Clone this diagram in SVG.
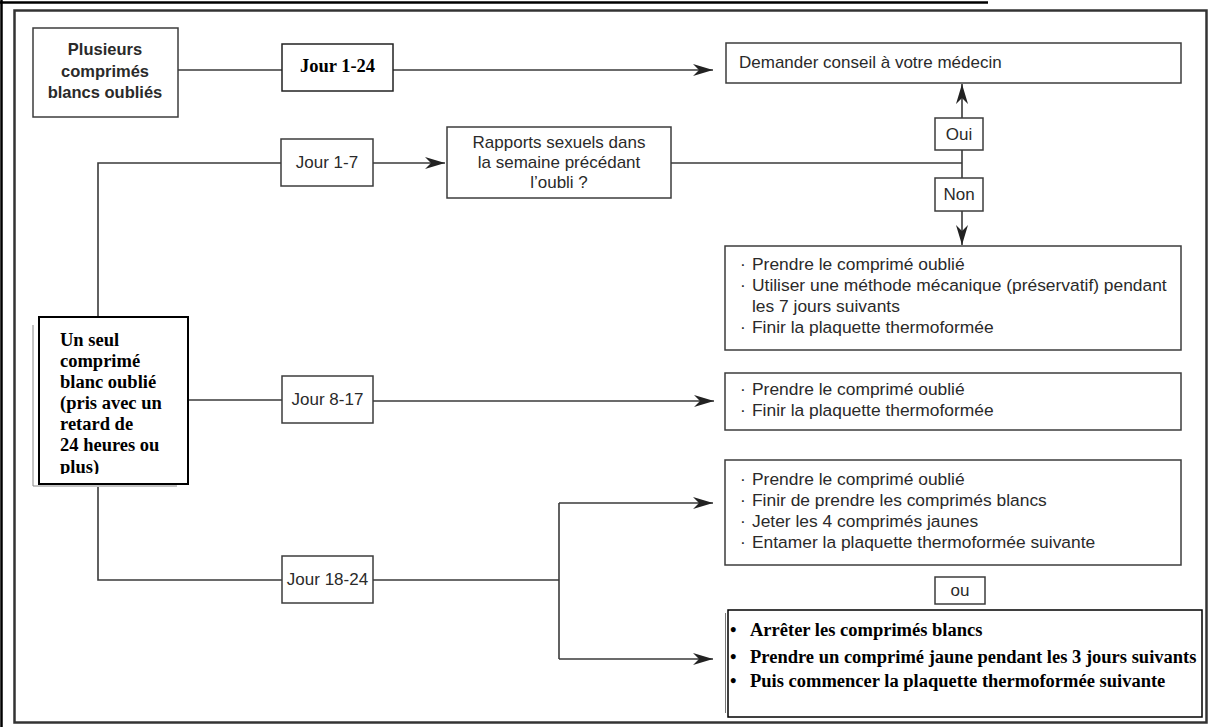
<svg xmlns="http://www.w3.org/2000/svg" width="1219" height="727" viewBox="0 0 1219 727">
<style>
.box{fill:#fff;stroke:#3c3c3c;stroke-width:1.5}
.sans{font-family:"Liberation Sans",Arial,sans-serif;font-size:17px;fill:#2a2a2a}
.list{font-family:"Liberation Sans",Arial,sans-serif;font-size:17.4px;fill:#2a2a2a}
.sansb{font-family:"Liberation Sans",Arial,sans-serif;font-size:16.5px;font-weight:bold;fill:#2a2a2a}
.serifb{font-family:"Liberation Serif","Times New Roman",serif;font-weight:bold;font-size:18.5px;fill:#000}
.conn{stroke:#3a3a3a;stroke-width:1.6;fill:none}
</style>
<defs>
<marker id="ah" markerUnits="userSpaceOnUse" markerWidth="22" markerHeight="14" refX="20" refY="7" orient="auto">
<path d="M0,1 L20,7 L0,13 L6,7 Z" fill="#222"/>
</marker>
<clipPath id="clipUn"><rect x="39" y="317" width="149" height="157"/></clipPath>
</defs>
<rect width="1219" height="727" fill="#fff"/>
<g id="frame">
<line x1="0" y1="2.5" x2="988" y2="2.5" stroke="#000" stroke-width="2.5"/>
<line x1="1.5" y1="0" x2="1.5" y2="727" stroke="#000" stroke-width="2.5"/>
<rect x="14.5" y="10.5" width="1192" height="712" fill="none" stroke="#333" stroke-width="2.5"/>
</g>
<g id="connectors">
<line class="conn" x1="178" y1="70" x2="282" y2="70"/>
<line class="conn" x1="393" y1="70" x2="713" y2="70" marker-end="url(#ah)"/>
<polyline class="conn" points="98,317 98,163 281,163"/>
<line class="conn" x1="373" y1="163" x2="445" y2="163" marker-end="url(#ah)"/>
<line class="conn" x1="671" y1="163" x2="962" y2="163"/>
<line class="conn" x1="962" y1="150" x2="962" y2="178"/>
<line class="conn" x1="962" y1="118" x2="962" y2="84" marker-end="url(#ah)"/>
<line class="conn" x1="962" y1="211" x2="962" y2="245" marker-end="url(#ah)"/>
<line class="conn" x1="188" y1="400" x2="282" y2="400"/>
<line class="conn" x1="373" y1="401" x2="714" y2="401" marker-end="url(#ah)"/>
<polyline class="conn" points="98,487 98,580 282,580"/>
<line class="conn" x1="373" y1="580" x2="559" y2="580"/>
<line class="conn" x1="559" y1="503" x2="559" y2="659"/>
<line class="conn" x1="559" y1="503" x2="713" y2="503" marker-end="url(#ah)"/>
<line class="conn" x1="559" y1="659" x2="713" y2="659" marker-end="url(#ah)"/>
</g>
<g id="n-plusieurs">
<rect class="box" x="33" y="28" width="145" height="89"/>
<text class="sansb" text-anchor="middle"><tspan x="105" y="55">Plusieurs</tspan><tspan x="105" y="77">comprimés</tspan><tspan x="105" y="98">blancs oubliés</tspan></text>
</g>
<g id="n-jour1-24">
<rect x="282" y="44" width="111" height="47" fill="#fff" stroke="#222" stroke-width="1.5"/>
<text class="serifb" x="337.5" y="72" text-anchor="middle">Jour 1-24</text>
</g>
<g id="n-medecin">
<rect class="box" x="726" y="43" width="455" height="40"/>
<text class="sans" x="739" y="68">Demander conseil à votre médecin</text>
</g>
<g id="n-jour1-7">
<rect class="box" x="281" y="139" width="92" height="47"/>
<text class="sans" x="327" y="168" text-anchor="middle">Jour 1-7</text>
</g>
<g id="n-rapports">
<rect class="box" x="447" y="127" width="224" height="71"/>
<text class="sans" text-anchor="middle"><tspan x="559" y="148">Rapports sexuels dans</tspan><tspan x="559" y="168">la semaine précédant</tspan><tspan x="559" y="188">l’oubli ?</tspan></text>
</g>
<g id="n-oui">
<rect class="box" x="935" y="118" width="48" height="32"/>
<text class="sans" x="959" y="140" text-anchor="middle">Oui</text>
</g>
<g id="n-non">
<rect class="box" x="935" y="178" width="48" height="33"/>
<text class="sans" x="959" y="200" text-anchor="middle">Non</text>
</g>
<g id="n-non-actions">
<rect class="box" x="725" y="246" width="456" height="104"/>
<text class="list"><tspan x="740" y="270">·</tspan><tspan x="752" y="270">Prendre le comprimé oublié</tspan><tspan x="740" y="291">·</tspan><tspan x="752" y="291">Utiliser une méthode mécanique (préservatif) pendant</tspan><tspan x="752" y="312">les 7 jours suivants</tspan><tspan x="740" y="333">·</tspan><tspan x="752" y="333">Finir la plaquette thermoformée</tspan></text>
</g>
<g id="n-unseul">
<path d="M33,325 V486 H177" fill="none" stroke="#888" stroke-width="1"/>
<rect x="39" y="317" width="149" height="167" fill="#fff" stroke="#000" stroke-width="2"/>
<text class="serifb" clip-path="url(#clipUn)"><tspan x="60" y="346">Un seul</tspan><tspan x="60" y="367">comprimé</tspan><tspan x="60" y="388">blanc oublié</tspan><tspan x="60" y="409">(pris avec un</tspan><tspan x="60" y="430">retard de</tspan><tspan x="60" y="451">24 heures ou</tspan><tspan x="60" y="473">plus)</tspan></text>
</g>
<g id="n-jour8-17">
<rect class="box" x="282" y="376" width="91" height="47"/>
<text class="sans" x="327.5" y="405" text-anchor="middle">Jour 8-17</text>
</g>
<g id="n-8-17-actions">
<rect class="box" x="725" y="373" width="456" height="57"/>
<text class="list"><tspan x="740" y="395">·</tspan><tspan x="752" y="395">Prendre le comprimé oublié</tspan><tspan x="740" y="416">·</tspan><tspan x="752" y="416">Finir la plaquette thermoformée</tspan></text>
</g>
<g id="n-jour18-24">
<rect class="box" x="282" y="556" width="91" height="47"/>
<text class="sans" x="327.5" y="585" text-anchor="middle">Jour 18-24</text>
</g>
<g id="n-18-24-a">
<rect class="box" x="725" y="460" width="456" height="105"/>
<text class="list"><tspan x="740" y="485">·</tspan><tspan x="752" y="485">Prendre le comprimé oublié</tspan><tspan x="740" y="506">·</tspan><tspan x="752" y="506">Finir de prendre les comprimés blancs</tspan><tspan x="740" y="527">·</tspan><tspan x="752" y="527">Jeter les 4 comprimés jaunes</tspan><tspan x="740" y="548">·</tspan><tspan x="752" y="548">Entamer la plaquette thermoformée suivante</tspan></text>
</g>
<g id="n-ou">
<rect class="box" x="935" y="577" width="50" height="27"/>
<text class="sans" x="960" y="596" text-anchor="middle">ou</text>
</g>
<g id="n-18-24-b">
<line x1="725.5" y1="613" x2="725.5" y2="713" stroke="#777" stroke-width="1"/>
<rect x="728" y="610" width="474" height="107" fill="#fff" stroke="#000" stroke-width="1.5"/>
<text class="serifb"><tspan x="730" y="636">•</tspan><tspan x="750" y="636">Arrêter les comprimés blancs</tspan><tspan x="730" y="663">•</tspan><tspan x="750" y="663">Prendre un comprimé jaune pendant les 3 jours suivants</tspan><tspan x="730" y="687">•</tspan><tspan x="750" y="687">Puis commencer la plaquette thermoformée suivante</tspan></text>
</g>
</svg>
